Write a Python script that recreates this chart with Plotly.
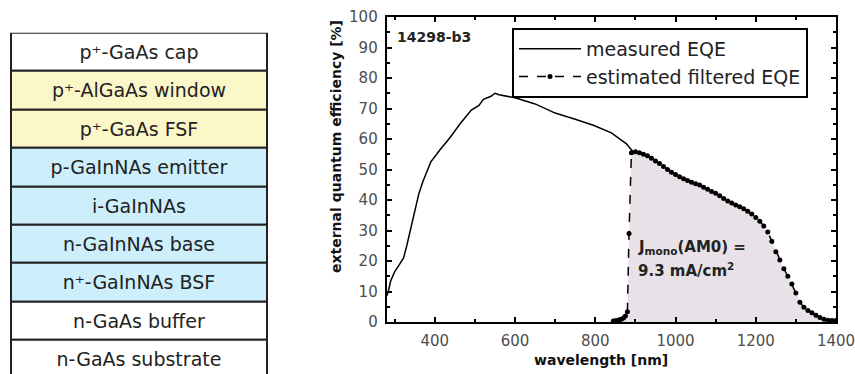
import plotly.graph_objects as go

# ---------------- data ----------------
layer_names = [
    "p⁺-GaAs cap",
    "p⁺-AlGaAs window",
    "p⁺-GaAs FSF",
    "p-GaInNAs emitter",
    "i-GaInNAs",
    "n-GaInNAs base",
    "n⁺-GaInNAs BSF",
    "n-GaAs buffer",
    "n-GaAs substrate",
]
layer_colors = ["#ffffff", "#fcf7c9", "#fcf7c9", "#cdeefb", "#cdeefb",
                "#cdeefb", "#cdeefb", "#ffffff", "#ffffff"]

meas_wl = [280, 284, 290, 300, 310, 322, 330, 340, 350, 360, 370, 380, 390,
           413, 438, 463, 491, 510, 521, 540, 550, 560, 600, 650, 700, 750,
           795, 840, 877, 893]
meas_eqe = [8.5, 10, 13.5, 16.5, 18.5, 21, 25, 31, 37, 42, 46, 49.5, 52.5,
            56.5, 60.5, 65, 69.5, 71, 73, 74, 75, 74.5, 73.5, 71.5, 68.5, 66.5,
            64.5, 62, 58.5, 56]

filt_wl = [845, 850, 855, 860, 865, 870, 875, 880, 884, 890, 900, 910, 920,
           930, 940, 950, 960, 970, 980, 990, 1000, 1010, 1020, 1030, 1040,
           1050, 1060, 1070, 1080, 1090, 1100, 1110, 1120, 1130, 1140, 1150,
           1160, 1170, 1180, 1190, 1200, 1210, 1220, 1230, 1240, 1250, 1260,
           1270, 1280, 1290, 1300, 1310, 1320, 1330, 1340, 1350, 1360, 1370,
           1380, 1390, 1400]
filt_eqe = [0.3, 0.4, 0.5, 0.7, 0.9, 1.3, 2.0, 3.4, 29, 55.5, 55.8, 55.5, 55.0,
            54.5, 53.7, 52.8, 52.0, 51.0, 50.0, 49.1, 48.4, 47.6, 47.0, 46.4,
            45.8, 45.3, 44.9, 44.2, 43.5, 42.8, 42.2, 41.4, 40.5, 39.7, 39.0,
            38.4, 37.8, 37.1, 36.3, 35.4, 34.3, 33.0, 31.5, 29.5, 26.5, 23.0,
            20.3, 17.5, 15.0, 12.5, 9.5, 6.5, 4.8, 3.8, 3.0, 2.2, 1.5, 0.9,
            0.6, 0.5, 0.5]

x_ticks = [400, 600, 800, 1000, 1200, 1400]
y_ticks = [0, 10, 20, 30, 40, 50, 60, 70, 80, 90, 100]

# ---------------- figure ----------------
W, H = 855, 374
FONT = "DejaVu Sans"

fig = go.Figure()

# layer stack (left panel)
fig.add_trace(go.Bar(
    x=[0] * len(layer_names), y=[1] * len(layer_names),
    base=list(range(len(layer_names))), width=1,
    marker=dict(color=layer_colors, line=dict(color="#222222", width=2)),
    text=layer_names, textposition="inside", insidetextanchor="middle",
    textangle=0, constraintext="none",
    textfont=dict(family=FONT, size=19, color="#222222"),
    xaxis="x2", yaxis="y2", showlegend=False, hoverinfo="skip",
))

# shaded area under filtered EQE
fig.add_trace(go.Scatter(
    x=filt_wl, y=filt_eqe, mode="none", fill="tozeroy",
    fillcolor="#e8e2e8", showlegend=False, hoverinfo="skip",
))

fig.add_trace(go.Scatter(
    x=meas_wl, y=meas_eqe, mode="lines", name="measured EQE",
    line=dict(color="black", width=1.5),
))

fig.add_trace(go.Scatter(
    x=filt_wl, y=filt_eqe, mode="lines+markers", name="estimated filtered EQE",
    line=dict(color="black", width=1.5, dash="dash"),
    marker=dict(color="black", size=5, symbol="circle"),
))

axis_common = dict(
    showline=True, linecolor="black", linewidth=2, mirror="ticks",
    ticks="inside", ticklen=5, tickwidth=1.5, tickcolor="black",
    showgrid=False, zeroline=False, ticklabeloverflow="allow",
    automargin=False,
    tickfont=dict(family=FONT, size=15, color="#4d4d4d"),
)

fig.update_layout(
    width=W, height=H,
    margin=dict(l=0, r=0, t=0, b=0, autoexpand=False),
    paper_bgcolor="white", plot_bgcolor="white",
    font=dict(family=FONT, color="black"),
    xaxis=dict(
        domain=[386.7 / W, 836 / W], range=[280, 1400],
        tickvals=x_ticks, ticklabelstandoff=4,
        minor=dict(dtick=100, tick0=0, ticks="inside", ticklen=3,
                   tickwidth=1.5, tickcolor="black"),
        **axis_common,
    ),
    yaxis=dict(
        domain=[1 - 322 / H, 1 - 17 / H], range=[0, 100],
        tickvals=y_ticks, ticklabelstandoff=4,
        minor=dict(dtick=5, tick0=0, ticks="inside", ticklen=3,
                   tickwidth=1.5, tickcolor="black"),
        **axis_common,
    ),
    xaxis2=dict(domain=[10 / W, 268 / W], range=[-0.505, 0.505],
                visible=False, fixedrange=True),
    yaxis2=dict(domain=[0, 1 - 32.7 / H], range=[(H - 32.7) / 38.4, 0],
                visible=False, fixedrange=True),
    legend=dict(
        x=512 / W, y=1 - 28 / H, xanchor="left", yanchor="top",
        bordercolor="black", borderwidth=2, bgcolor="white",
        font=dict(family=FONT, size=19, color="#222222"),
        tracegroupgap=0, itemwidth=62,
    ),
    showlegend=True,
    bargap=0,
)

fig.add_annotation(
    text="<b>14298-b3</b>", x=395 / W, y=1 - 37 / H, xref="paper", yref="paper",
    xanchor="left", yanchor="middle", showarrow=False,
    font=dict(family=FONT, size=14, color="#222222"),
)
fig.add_annotation(
    text="<b>J<sub>mono</sub>(AM0) =</b>", x=636 / W, y=1 - 247 / H,
    xref="paper", yref="paper", xanchor="left", yanchor="middle",
    showarrow=False, font=dict(family=FONT, size=15, color="#222222"),
)
fig.add_annotation(
    text="<b>9.3 mA/cm<sup>2</sup></b>", x=636 / W, y=1 - 270 / H,
    xref="paper", yref="paper", xanchor="left", yanchor="middle",
    showarrow=False, font=dict(family=FONT, size=15, color="#222222"),
)
fig.add_annotation(
    text="<b>wavelength [nm]</b>", x=601 / W, y=1 - 360 / H,
    xref="paper", yref="paper", xanchor="center", yanchor="middle",
    showarrow=False, font=dict(family=FONT, size=14, color="#111111"),
)
fig.add_annotation(
    text="<b>external quantum efficiency [%]</b>", x=336 / W, y=1 - 147 / H,
    xref="paper", yref="paper", xanchor="center", yanchor="middle",
    textangle=-90, showarrow=False,
    font=dict(family=FONT, size=14, color="#111111"),
)

fig.write_html("out.html")
